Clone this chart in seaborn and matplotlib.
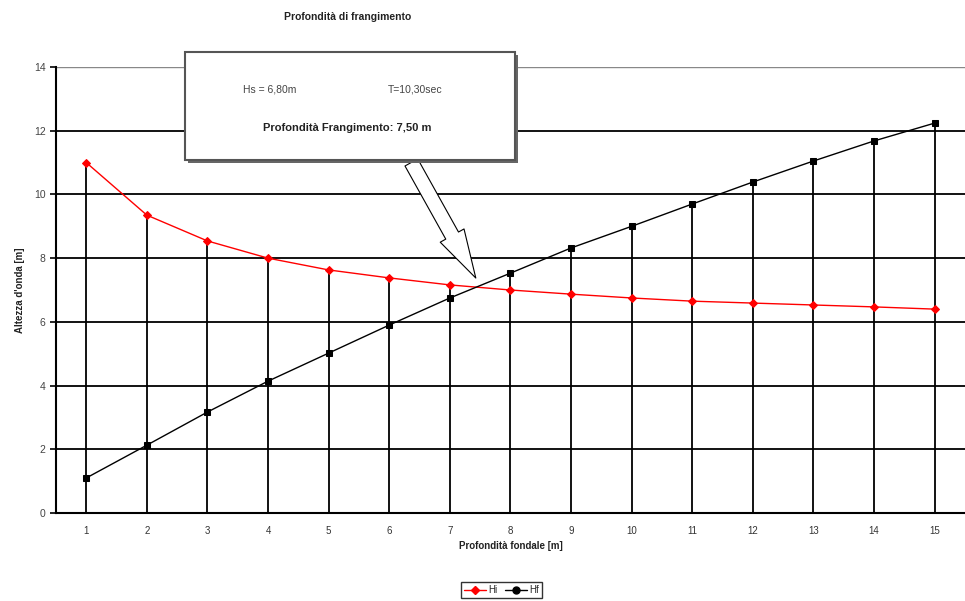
import numpy as np
import pandas as pd
import matplotlib
matplotlib.use("Agg")
import matplotlib.pyplot as plt
from matplotlib.patches import Rectangle, FancyArrowPatch
import seaborn as sns

# Data
depth = list(range(1, 16))
hi_values = [11.0, 9.35, 8.54, 8.0, 7.63, 7.38, 7.16, 7.0, 6.87, 6.75, 6.65, 6.59, 6.53, 6.47, 6.40]
hf_values = [1.10, 2.13, 3.17, 4.14, 5.02, 5.90, 6.75, 7.53, 8.32, 9.0, 9.70, 10.39, 11.05, 11.68, 12.24]
y_ticks = [0, 2, 4, 6, 8, 10, 12, 14]
break_depth = 7.45
break_height = 7.3

df = pd.DataFrame({'Depth': depth * 2,
                   'Height': hi_values + hf_values,
                   'Serie': ['Hi'] * 15 + ['Hf'] * 15})

sns.set_style("white")
plt.rcParams['font.family'] = ['Liberation Sans', 'DejaVu Sans']

fig = plt.figure(figsize=(9.65, 6.01), dpi=100)
ax = fig.add_axes([0.058, 0.1464, 0.942, 0.7421])

# horizontal grid
for yv in y_ticks[1:-1]:
    ax.axhline(yv, color='black', linewidth=1.3, zorder=1)
ax.axhline(14, color='#888888', linewidth=1.0, zorder=1)

# drop lines from each category to the highest point
tops = np.maximum(hi_values, hf_values)
ax.vlines(depth, 0, tops, color='black', linewidth=1.3, zorder=1)

sns.lineplot(data=df[df['Serie'] == 'Hi'], x='Depth', y='Height', color='red',
             marker='D', markersize=4, markeredgecolor='red', linewidth=1.0, ax=ax, zorder=3)
sns.lineplot(data=df[df['Serie'] == 'Hf'], x='Depth', y='Height', color='black',
             marker='s', markersize=5, markeredgecolor='black', linewidth=1.0, ax=ax, zorder=3)

ax.set_xlim(0.5, 15.38)
ax.set_ylim(0, 14)
ax.set_yticks(y_ticks)
ax.set_xticks(depth)
ax.set_xticks(np.arange(0.5, 16, 1), minor=True)
ax.tick_params(axis='x', which='major', length=0, pad=9, labelsize=7, labelcolor='#333333')
ax.tick_params(axis='x', which='minor', length=4, width=1.2, direction='out', color='black')
ax.tick_params(axis='y', length=4, width=1.2, direction='out', color='black',
               labelsize=7.5, labelcolor='#444444', left=True)
for s in ['top', 'right']:
    ax.spines[s].set_visible(False)
for s in ['left', 'bottom']:
    ax.spines[s].set_color('black')
    ax.spines[s].set_linewidth(1.5)

ax.set_xlabel('Profondità fondale [m]', fontsize=7, fontweight='bold', color='#222222', labelpad=4)
ax.set_ylabel("Altezza d'onda [m]", fontsize=7, fontweight='bold', color='#222222', labelpad=6)
fig.text(0.36, 0.972, 'Profondità di frangimento', ha='center', va='center',
         fontsize=7.5, fontweight='bold', color='#222222')

# annotation box with shadow
bx, by, bw, bh = 185 / 965, (601 - 160) / 601, 330 / 965, 108 / 601
fig.add_artist(Rectangle((bx + 3 / 965, by - 3 / 601), bw, bh, transform=fig.transFigure,
                         facecolor='#666666', edgecolor='none', zorder=5))
fig.add_artist(Rectangle((bx, by), bw, bh, transform=fig.transFigure,
                         facecolor='white', edgecolor='#555555', linewidth=1.5, zorder=6))
fig.text(270 / 965, 1 - 89 / 601, 'Hs = 6,80m', ha='center', va='center', fontsize=7.5,
         color='#444444', zorder=7)
fig.text(415 / 965, 1 - 89 / 601, 'T=10,30sec', ha='center', va='center', fontsize=7.5,
         color='#444444', zorder=7)
fig.text(347 / 965, 1 - 128 / 601, 'Profondità Frangimento: 7,50 m', ha='center', va='center',
         fontsize=8, fontweight='bold', color='#222222', zorder=7)

# hollow arrow pointing to the crossing
start = ax.transData.inverted().transform(fig.transFigure.transform((410 / 965, by)))
arrow = FancyArrowPatch(posA=tuple(start), posB=(break_depth, break_height),
                        arrowstyle='simple,head_length=2.5,head_width=1.4,tail_width=0.75',
                        mutation_scale=14, facecolor='white', edgecolor='black',
                        linewidth=0.8, zorder=4, clip_on=False)
ax.add_patch(arrow)

# legend
h1, = ax.plot([], [], color='red', marker='D', markersize=4, linewidth=1.0)
h2, = ax.plot([], [], color='black', marker='o', markersize=5, linewidth=1.0)
leg = fig.legend([h1, h2], ['Hi', 'Hf'], loc='center', bbox_to_anchor=(0.52, 0.018),
                 ncol=2, fontsize=7, frameon=True, fancybox=False, handlelength=2.2,
                 columnspacing=0.8, handletextpad=0.3, borderpad=0.3)
leg.get_frame().set_edgecolor('black')
leg.get_frame().set_linewidth(1.0)

plt.savefig('out.png', dpi=100)
